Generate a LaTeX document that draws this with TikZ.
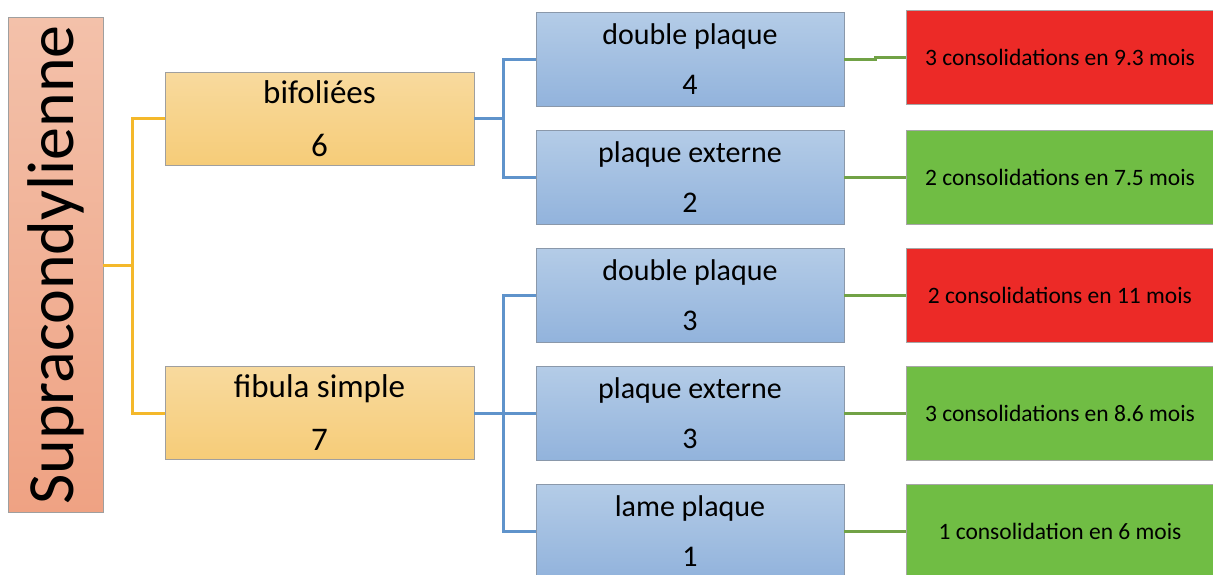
\documentclass[tikz,border=0pt]{standalone}
\usepackage{fontspec}
\setmainfont{Carlito}
\usetikzlibrary{calc,positioning}

\definecolor{saumonH}{HTML}{F3C1AA}
\definecolor{saumonB}{HTML}{EFA283}
\definecolor{orH}{HTML}{F8DA9E}
\definecolor{orB}{HTML}{F6CC78}
\definecolor{bleuH}{HTML}{B4CCE7}
\definecolor{bleuB}{HTML}{92B3DC}
\definecolor{bleuC}{HTML}{8A98AA}
\definecolor{rouge}{HTML}{EC2A27}
\definecolor{vert}{HTML}{70BD44}
\definecolor{traitOr}{HTML}{F4B82A}
\definecolor{traitBleu}{HTML}{5F93CB}
\definecolor{traitVert}{HTML}{71A246}

\tikzset{
  racine/.style={draw=gray!75, top color=saumonH, bottom color=saumonB, minimum width=95pt, minimum height=495pt, inner sep=0pt, font=\fontsize{66}{70}\selectfont},
  groupe/.style={draw=gray!75, top color=orH, bottom color=orB, minimum width=309pt, minimum height=93pt, inner sep=0pt, align=center, font=\fontsize{33}{53}\selectfont},
  methode/.style={draw=bleuC, top color=bleuH, bottom color=bleuB, minimum width=308pt, minimum height=94pt, inner sep=0pt, align=center, font=\fontsize{30}{50}\selectfont},
  resultat/.style={draw=gray!70, minimum width=308pt, minimum height=94pt, inner sep=0pt, font=\fontsize{23.5}{28}\selectfont},
  lienor/.style={draw=traitOr, line width=3pt},
  lienbleu/.style={draw=traitBleu, line width=3pt},
  lienvert/.style={draw=traitVert, line width=3pt}
}

\begin{document}
\begin{tikzpicture}[x=1pt,y=-1pt,line join=miter]
\useasboundingbox (0,0) rectangle (1213,574);
% racine
\node[racine] (R) at (55.5,265) {\rotatebox{90}{Supracondylienne}};
% groupes
\node[groupe] (G1) at (319.5,118.5) {bifoliées\\6};
\node[groupe] (G2) at (319.5,413) {fibula simple\\7};
% methodes
\foreach \nom/\y/\titre/\n in {M1/59/double plaque/4, M2/177/plaque externe/2, M3/295/double plaque/3, M4/413/plaque externe/3, M5/531/lame plaque/1}
  \node[methode] (\nom) at (690,\y) {\titre\\\n};
% resultats
\foreach \nom/\y/\coul/\texte in {C1/57/rouge/3 consolidations en 9.3 mois, C2/177/vert/2 consolidations en 7.5 mois, C3/295/rouge/2 consolidations en 11 mois, C4/413/vert/3 consolidations en 8.6 mois, C5/531/vert/1 consolidation en 6 mois}
  \node[resultat, fill=\coul] (\nom) at (1060,\y) {\texte};
% liens
\draw[lienor] (R.east) -- ($(R.east)+(30,0)$);
\draw[lienor] (G1.west) -- ++(-32,0) |- (G2.west);
\draw[lienbleu] (G1.east) -- ++(30,0);
\draw[lienbleu] (M1.west) -- ++(-32,0) |- (M2.west);
\draw[lienbleu] (G2.east) -- (M4.west);
\draw[lienbleu] (M3.west) -- ++(-32,0) |- (M5.west);
\draw[lienvert] (M1.east) -- ++(31,0) |- (C1.west);
\foreach \i in {2,...,5}
  \draw[lienvert] (M\i.east) -- (C\i.west);
\end{tikzpicture}
\end{document}
